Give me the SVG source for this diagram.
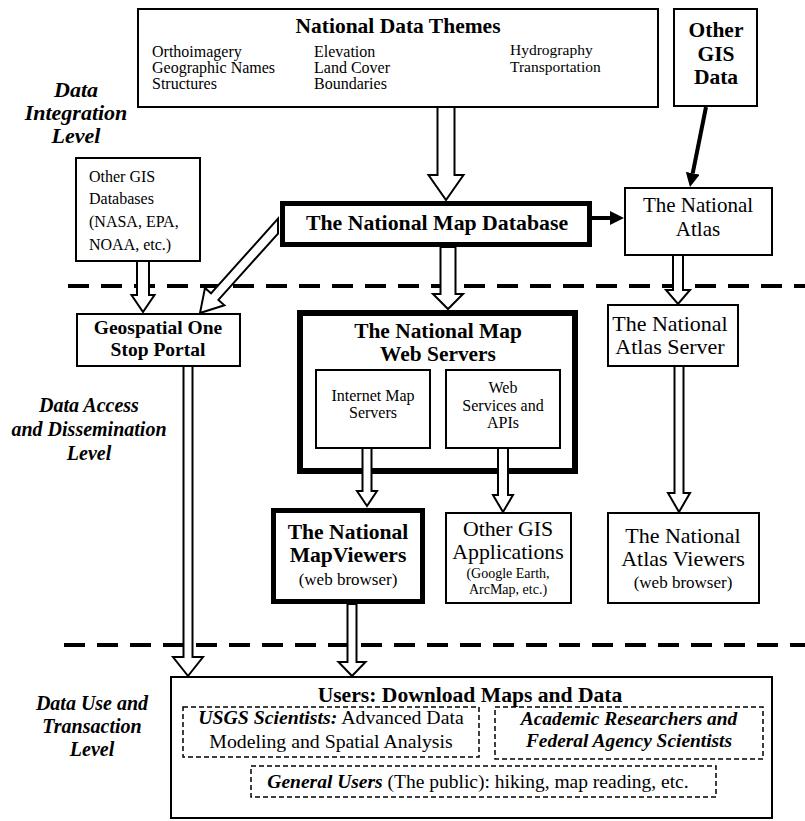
<svg xmlns="http://www.w3.org/2000/svg" width="805" height="821" viewBox="0 0 805 821">
<style>
text{font-family:"Liberation Serif","Times New Roman",serif;fill:#000}
.box{fill:#fff;stroke:#000;stroke-width:2}
.thick{fill:#fff;stroke:#000}
.dbox{fill:none;stroke:#000;stroke-width:1.5;stroke-dasharray:5 3}
.hollow{fill:#fff;stroke:#000;stroke-width:2;stroke-linejoin:miter}
.sep{stroke:#000;stroke-width:4;stroke-dasharray:21 12;fill:none}
.solid{stroke:#000;stroke-width:4;fill:none}
.b{font-weight:bold}
.bi{font-weight:bold;font-style:italic}
.c{text-anchor:middle}
</style>
<defs>
<marker id="ah" viewBox="0 0 10 10" refX="0" refY="5" markerWidth="3.5" markerHeight="3.5" orient="auto"><path d="M0,0 L10,5 L0,10 z" fill="#000"/></marker>
</defs>
<rect width="805" height="821" fill="#fff"/>
<g id="separators">
<line class="sep" x1="68" y1="286" x2="805" y2="286"/>
<line class="sep" x1="64" y1="645" x2="805" y2="645"/>
</g>
<g id="level-labels">
<text class="bi c" x="76" y="97" font-size="22">Data</text>
<text class="bi c" x="76" y="120" font-size="22">Integration</text>
<text class="bi c" x="76" y="143" font-size="22">Level</text>
<text class="bi c" x="89" y="412" font-size="20">Data Access</text>
<text class="bi c" x="89" y="436" font-size="20">and Dissemination</text>
<text class="bi c" x="89" y="460" font-size="20">Level</text>
<text class="bi c" x="92" y="710" font-size="20">Data Use and</text>
<text class="bi c" x="92" y="733" font-size="20">Transaction</text>
<text class="bi c" x="92" y="756" font-size="20">Level</text>
</g>
<g id="themes">
<rect class="box" x="138" y="9" width="520" height="98"/>
<text class="b c" x="398" y="33" font-size="21.5">National Data Themes</text>
<text x="152" y="57" font-size="16">Orthoimagery</text>
<text x="152" y="73" font-size="16">Geographic Names</text>
<text x="152" y="89" font-size="16">Structures</text>
<text x="314" y="57" font-size="16">Elevation</text>
<text x="314" y="73" font-size="16">Land Cover</text>
<text x="314" y="89" font-size="16">Boundaries</text>
<text x="510" y="55" font-size="15.5">Hydrography</text>
<text x="510" y="72" font-size="15.5">Transportation</text>
</g>
<g id="other-gis-data">
<rect class="box" x="674" y="9" width="83" height="97"/>
<text class="b c" x="716" y="37" font-size="21.5">Other</text>
<text class="b c" x="716" y="61" font-size="21.5">GIS</text>
<text class="b c" x="716" y="84" font-size="21.5">Data</text>
</g>
<g id="other-gis-databases">
<rect class="box" x="76" y="158" width="124" height="103"/>
<text x="89" y="182" font-size="16">Other GIS</text>
<text x="89" y="204" font-size="16">Databases</text>
<text x="89" y="227" font-size="16">(NASA, EPA,</text>
<text x="89" y="250" font-size="16">NOAA, etc.)</text>
</g>
<g id="map-database">
<rect class="thick" x="282.5" y="203.5" width="307" height="41" stroke-width="5"/>
<text class="b c" x="437" y="230" font-size="21.8">The National Map Database</text>
</g>
<g id="national-atlas">
<rect class="box" x="625" y="188" width="147" height="67"/>
<text class="c" x="698" y="212" font-size="21">The National</text>
<text class="c" x="698" y="236" font-size="21">Atlas</text>
</g>
<g id="geospatial">
<rect class="box" x="77" y="314" width="163" height="52"/>
<text class="b c" x="158" y="334" font-size="19.5">Geospatial One</text>
<text class="b c" x="158" y="356" font-size="19.5">Stop Portal</text>
</g>
<g id="web-servers">
<rect class="thick" x="300" y="313" width="275" height="158" stroke-width="6"/>
<text class="b c" x="438" y="338" font-size="21.4">The National Map</text>
<text class="b c" x="438" y="361" font-size="21.4">Web Servers</text>
</g>
<g id="internet-map-servers">
<rect class="box" x="316" y="370" width="114" height="78"/>
<text class="c" x="373" y="401" font-size="16">Internet Map</text>
<text class="c" x="373" y="418" font-size="16">Servers</text>
</g>
<g id="web-services">
<rect class="box" x="446" y="370" width="114" height="78"/>
<text class="c" x="503" y="393" font-size="16">Web</text>
<text class="c" x="503" y="411" font-size="16">Services and</text>
<text class="c" x="503" y="428" font-size="16">APIs</text>
</g>
<g id="atlas-server">
<rect class="box" x="608" y="305" width="130" height="61"/>
<text class="c" x="670" y="331" font-size="22">The National</text>
<text class="c" x="670" y="354" font-size="22">Atlas Server</text>
</g>
<g id="mapviewers">
<rect class="thick" x="273.5" y="510.5" width="149" height="91" stroke-width="5"/>
<text class="b c" x="348" y="539" font-size="21.6">The National</text>
<text class="b c" x="348" y="562" font-size="21.6">MapViewers</text>
<text class="c" x="348" y="585" font-size="17">(web browser)</text>
</g>
<g id="other-gis-apps">
<rect class="box" x="446" y="513" width="125" height="90"/>
<text class="c" x="508" y="536" font-size="21.8">Other GIS</text>
<text class="c" x="508" y="559" font-size="21.8">Applications</text>
<text class="c" x="508" y="578" font-size="14">(Google Earth,</text>
<text class="c" x="508" y="594" font-size="14">ArcMap, etc.)</text>
</g>
<g id="atlas-viewers">
<rect class="box" x="608" y="513" width="151" height="90"/>
<text class="c" x="683" y="543" font-size="22">The National</text>
<text class="c" x="683" y="566" font-size="22">Atlas Viewers</text>
<text class="c" x="683" y="588" font-size="17">(web browser)</text>
</g>
<g id="users">
<rect class="box" x="171" y="677" width="601" height="141"/>
<text class="b c" x="470" y="702" font-size="21.6">Users: Download Maps and Data</text>
<rect class="dbox" x="183" y="707" width="296" height="50"/>
<text class="c" x="331" y="724" font-size="19.8"><tspan class="bi">USGS Scientists:</tspan> Advanced Data</text>
<text class="c" x="331" y="748" font-size="19.8">Modeling and Spatial Analysis</text>
<rect class="dbox" x="495" y="707" width="268" height="52"/>
<text class="bi c" x="629" y="725" font-size="19.4">Academic Researchers and</text>
<text class="bi c" x="629" y="747" font-size="19.4">Federal Agency Scientists</text>
<rect class="dbox" x="251" y="766" width="465" height="31"/>
<text class="c" x="478" y="788" font-size="19.5"><tspan class="bi">General Users</tspan> (The public): hiking, map reading, etc.</text>
</g>
<g id="connectors">
<polygon class="hollow" points="437.5,107 454.5,107 454.5,175 463.5,175 446,200 428.5,175 437.5,175"/>
<polygon class="hollow" points="440.5,247 455.5,247 455.5,294 463,294 448,309 433,294 440.5,294"/>
<polygon class="hollow" points="137,261 149,261 149,295 154.5,295 143,312 131.5,295 137,295"/>
<polygon class="hollow" points="278,218.7 211,293.3 205,287.9 200,313 224.4,305.3 218.4,299.9 278,233.6"/>
<polygon class="hollow" points="183.5,366 192.5,366 192.5,657 203,657 188,676 173,657 183.5,657"/>
<polygon class="hollow" points="347.5,604 356.5,604 356.5,662 365.5,662 352,676 338.5,662 347.5,662"/>
<polygon class="hollow" points="362.5,448 371.5,448 371.5,491 377,491 367,506 357,491 362.5,491"/>
<polygon class="hollow" points="498,448 508,448 508,495 513,495 503,512 493,495 498,495"/>
<polygon class="hollow" points="673,255 683,255 683,290 690,290 678,304 666,290 673,290"/>
<polygon class="hollow" points="674.5,366 683.5,366 683.5,493 690,493 679,512 668,493 674.5,493"/>
<line class="solid" x1="592" y1="218" x2="610" y2="218" marker-end="url(#ah)"/>
<line class="solid" x1="706" y1="107" x2="692.7" y2="173.3" marker-end="url(#ah)"/>
</g>
</svg>
